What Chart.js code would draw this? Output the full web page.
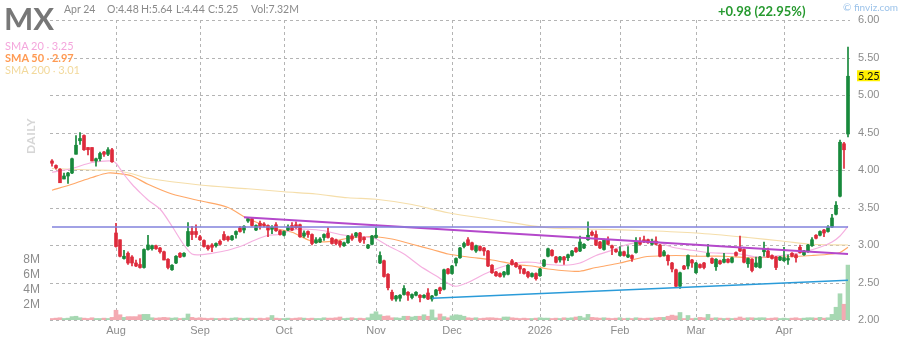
<!DOCTYPE html>
<html>
<head>
<meta charset="utf-8">
<script src="https://cdn.jsdelivr.net/npm/chart.js@4.4.1/dist/chart.umd.min.js"></script>
<style>
  body { margin: 0; background: #fff; font-family: Lato, "Noto Sans", sans-serif; }
  #wrap { position: relative; width: 900px; height: 340px; overflow: hidden; }
  #wrap canvas { position: absolute; left: 0; top: 0; }
  .t { position: absolute; white-space: nowrap; line-height: 1; }
  .h { font-size: 10.5px; color: #8a8a8a; top: 4px; }
</style>
</head>
<body>
<div id="wrap">
  <canvas id="stockChart" width="900" height="340"></canvas>
  <div class="t" style="left:4px;top:3px;font-size:31px;font-weight:700;color:#777;">MX</div>
  <div class="t h" style="left:64px;">Apr 24</div>
  <div class="t h" style="left:107px;">O:4.48</div>
  <div class="t h" style="left:141px;">H:5.64</div>
  <div class="t h" style="left:176px;">L:4.44</div>
  <div class="t h" style="left:208px;">C:5.25</div>
  <div class="t h" style="left:251px;">Vol:7.32M</div>
  <div class="t" style="left:5px;top:40px;font-size:11px;color:#f4a6dc;">SMA 20 <span style="font-size:9px">&middot;</span> 3.25</div>
  <div class="t" style="left:5px;top:52px;font-size:11px;color:#ff9a52;font-weight:700;">SMA 50 <span style="font-size:9px">&middot;</span> 2.97</div>
  <div class="t" style="left:5px;top:64px;font-size:11px;color:#f2d99c;">SMA 200 <span style="font-size:9px">&middot;</span> 3.01</div>
  <div class="t" style="left:718px;top:5px;font-size:13px;font-weight:700;color:#26992f;">+0.98 (22.95%)</div>
  <div class="t" style="left:843px;top:2px;font-size:10px;color:#9cc3ea;">&copy; finviz.com</div>
  <div class="t" style="left:0px;top:130px;width:62px;text-align:center;font-size:12px;font-weight:700;letter-spacing:0.5px;color:#d6d6d6;transform:rotate(-90deg);">DAILY</div>
</div>
<script>
// daily candles, 10 Jul 2025 .. 24 Apr 2026
const open = [
  4.12,4.06,4.01,3.88,3.92,3.96,4.21,4.39,4.46,4.30,
  4.30,4.12,4.15,4.24,4.21,4.27,3.16,3.07,2.82,2.89,
  2.84,2.76,2.74,2.70,2.94,2.95,2.99,2.96,2.91,2.81,
  2.67,2.76,2.89,2.85,2.99,3.18,3.18,3.11,3.06,2.99,
  3.00,2.99,3.05,3.14,3.11,3.07,3.14,3.23,3.20,3.32,
  3.35,3.20,3.29,3.28,3.26,3.21,3.27,3.19,3.13,3.20,
  3.26,3.27,3.27,3.12,3.18,3.14,3.03,3.04,3.10,3.16,
  3.09,3.07,3.05,2.99,3.03,3.12,3.12,3.16,3.10,2.96,
  3.01,3.10,2.76,2.79,2.61,2.37,2.28,2.29,2.34,2.37,
  2.30,2.33,2.33,2.30,2.36,2.28,2.33,2.43,2.41,2.68,
  2.62,2.76,2.83,2.98,3.07,3.03,2.92,2.98,2.96,2.92,
  2.73,2.64,2.62,2.60,2.61,2.79,2.76,2.72,2.68,2.64,
  2.58,2.62,2.59,2.72,2.85,2.93,2.84,2.80,2.84,2.83,
  2.86,2.96,2.92,2.96,3.07,3.17,3.14,3.04,2.94,3.07,
  2.99,2.94,2.86,2.91,2.84,2.86,2.90,3.05,3.07,3.07,
  3.01,3.05,3.00,2.86,2.86,2.76,2.67,2.45,2.72,2.72,
  2.80,2.63,2.74,2.76,2.85,2.82,2.71,2.79,2.77,2.81,
  2.77,2.90,2.96,2.94,2.75,2.81,2.71,2.70,2.91,2.92,
  2.86,2.84,2.80,2.79,2.80,2.89,2.87,2.97,2.87,2.91,
  2.99,3.13,3.13,3.20,3.18,3.24,3.41,3.65,4.35,4.48
];
const high = [
  4.14,4.07,4.02,3.96,3.97,4.16,4.46,4.50,4.47,4.30,
  4.30,4.16,4.24,4.25,4.30,4.29,3.29,3.07,2.93,2.91,
  2.86,2.80,2.82,2.95,3.13,3.00,3.00,2.97,2.92,2.82,
  2.74,2.86,2.90,2.90,3.30,3.25,3.27,3.13,3.07,3.00,
  3.02,3.03,3.07,3.18,3.12,3.13,3.19,3.25,3.26,3.37,
  3.37,3.27,3.32,3.30,3.27,3.26,3.30,3.20,3.19,3.27,
  3.30,3.31,3.28,3.19,3.19,3.15,3.10,3.10,3.15,3.23,
  3.10,3.08,3.06,3.04,3.13,3.15,3.17,3.17,3.11,3.01,
  3.13,3.23,2.91,2.80,2.62,2.40,2.33,2.34,2.46,2.38,
  2.35,2.38,2.34,2.34,2.42,2.33,2.41,2.44,2.68,2.69,
  2.73,2.83,2.97,3.04,3.10,3.04,3.00,2.99,2.97,2.93,
  2.74,2.65,2.63,2.65,2.74,2.81,2.77,2.73,2.69,2.65,
  2.63,2.63,2.69,2.81,2.96,2.94,2.85,2.85,2.85,2.88,
  2.93,2.97,3.12,3.02,3.31,3.19,3.19,3.05,3.08,3.11,
  3.00,2.95,2.98,2.92,2.98,2.87,3.10,3.10,3.12,3.08,
  3.08,3.11,3.01,2.93,2.87,2.77,2.68,2.64,2.73,2.87,
  2.81,2.77,2.75,2.77,3.01,2.83,2.82,2.80,2.89,2.82,
  2.84,2.91,3.12,2.95,2.83,2.82,2.84,2.85,3.04,2.96,
  2.87,2.85,2.85,2.97,2.87,2.90,2.88,3.00,2.93,3.01,
  3.10,3.14,3.19,3.21,3.26,3.41,3.58,4.40,4.37,5.64
];
const low = [
  4.05,4.01,3.83,3.88,3.82,3.95,4.21,4.34,4.26,4.20,
  4.12,4.05,4.12,4.18,4.19,4.10,2.97,2.84,2.81,2.74,
  2.72,2.71,2.69,2.69,2.93,2.93,2.94,2.89,2.80,2.68,
  2.66,2.75,2.83,2.84,2.98,3.07,3.10,3.06,2.97,2.93,
  2.91,2.97,3.00,3.06,3.05,3.06,3.09,3.17,3.16,3.30,
  3.25,3.19,3.21,3.24,3.11,3.15,3.18,3.13,3.12,3.19,
  3.19,3.22,3.10,3.10,3.10,3.00,3.02,3.03,3.06,3.09,
  3.01,3.00,2.97,2.98,3.02,3.06,3.10,3.03,3.02,2.95,
  3.00,3.09,2.75,2.57,2.40,2.26,2.25,2.25,2.33,2.26,
  2.28,2.32,2.24,2.29,2.27,2.25,2.32,2.35,2.40,2.61,
  2.61,2.72,2.82,2.96,2.99,2.93,2.90,2.92,2.86,2.71,
  2.62,2.58,2.57,2.57,2.60,2.73,2.70,2.62,2.61,2.56,
  2.57,2.53,2.58,2.71,2.84,2.85,2.76,2.77,2.74,2.79,
  2.85,2.90,2.91,2.95,3.06,3.12,2.99,2.95,2.93,3.00,
  2.87,2.90,2.85,2.85,2.83,2.78,2.89,3.00,3.03,3.02,
  3.00,3.00,2.84,2.85,2.73,2.64,2.44,2.42,2.67,2.68,
  2.70,2.62,2.69,2.68,2.84,2.75,2.66,2.74,2.76,2.76,
  2.76,2.85,2.91,2.76,2.70,2.64,2.70,2.69,2.85,2.83,
  2.81,2.67,2.79,2.78,2.74,2.84,2.77,2.89,2.86,2.90,
  2.98,3.08,3.12,3.11,3.17,3.23,3.40,3.64,4.02,4.44
];
const close = [
  4.09,4.03,3.83,3.92,3.96,4.15,4.33,4.42,4.27,4.27,
  4.12,4.15,4.22,4.21,4.27,4.11,2.98,2.85,2.85,2.76,
  2.76,2.72,2.70,2.94,3.00,2.99,2.95,2.91,2.80,2.70,
  2.73,2.85,2.84,2.89,3.18,3.14,3.14,3.07,2.98,2.95,
  2.97,3.02,3.01,3.07,3.07,3.12,3.18,3.18,3.25,3.35,
  3.26,3.26,3.25,3.26,3.20,3.24,3.19,3.14,3.18,3.24,
  3.20,3.23,3.11,3.16,3.14,3.02,3.07,3.08,3.14,3.10,
  3.02,3.02,3.00,3.03,3.12,3.08,3.16,3.05,3.07,3.00,
  3.12,3.13,2.86,2.58,2.43,2.28,2.32,2.33,2.42,2.33,
  2.34,2.37,2.30,2.33,2.28,2.32,2.40,2.39,2.67,2.62,
  2.72,2.82,2.96,3.02,3.00,2.94,2.99,2.93,2.92,2.72,
  2.63,2.59,2.58,2.64,2.73,2.74,2.71,2.68,2.62,2.58,
  2.62,2.55,2.68,2.80,2.95,2.86,2.77,2.84,2.80,2.87,
  2.92,2.91,3.04,3.01,3.13,3.13,3.00,2.96,3.07,3.01,
  2.96,2.91,2.91,2.86,2.87,2.82,3.05,3.01,3.04,3.03,
  3.05,3.01,2.85,2.91,2.79,2.68,2.45,2.63,2.68,2.86,
  2.76,2.76,2.70,2.70,2.89,2.76,2.81,2.75,2.81,2.77,
  2.83,2.86,2.92,2.77,2.82,2.66,2.76,2.84,2.95,2.84,
  2.82,2.70,2.84,2.83,2.82,2.85,2.83,2.90,2.92,3.00,
  3.07,3.09,3.18,3.16,3.24,3.36,3.53,4.37,4.27,5.25
];
// volume in millions
const volume = [
  0.20,0.25,0.30,0.20,0.25,0.45,0.50,0.30,0.25,0.20,
  0.30,0.20,0.20,0.25,0.20,0.35,1.30,0.70,0.35,0.45,
  0.45,0.45,0.70,0.75,0.75,0.30,0.25,0.30,0.35,0.30,
  0.25,0.30,0.20,0.25,0.80,0.35,0.25,0.30,0.25,0.20,
  0.25,0.20,0.20,0.25,0.20,0.25,0.30,0.25,0.20,0.25,
  0.25,0.20,0.25,0.20,0.30,0.60,0.25,0.20,0.20,0.25,
  0.20,0.25,0.30,0.25,0.20,0.25,0.20,0.20,0.30,0.25,
  0.25,0.30,0.40,0.20,0.25,0.30,0.20,0.25,0.20,0.30,
  0.80,1.10,0.70,0.50,0.55,0.30,0.30,0.25,0.50,0.50,
  0.40,0.50,0.50,0.70,0.50,1.35,0.30,0.80,0.45,0.30,
  0.55,0.70,0.65,0.50,0.30,0.25,0.30,0.20,0.25,0.30,
  0.30,0.25,0.20,0.40,0.40,0.30,0.25,0.20,0.25,0.20,
  0.20,0.25,0.30,0.25,0.25,0.20,0.25,0.20,0.30,0.25,
  0.30,0.40,0.50,0.30,0.75,0.35,0.30,0.25,0.30,0.25,
  0.20,0.25,0.30,0.20,0.25,0.20,0.30,0.25,0.20,0.25,
  0.25,0.30,0.35,0.35,0.50,0.65,0.55,1.00,0.20,0.60,
  0.20,0.25,0.35,0.30,0.75,0.25,0.30,0.25,0.20,0.25,
  0.20,0.25,0.40,0.25,0.30,0.30,0.25,0.30,0.30,0.20,
  0.25,0.30,0.20,0.25,0.20,0.25,0.30,0.20,0.25,0.30,
  0.30,0.25,0.35,0.25,0.30,0.75,1.70,3.50,2.10,7.32
];

// moving averages: [bar index, value]
const sma20 = [
  [0,3.97],[5,4.02],[10,4.10],[15,4.12],[16,4.09],[18,3.94],[20,3.81],[22,3.70],[24,3.60],
  [27,3.48],[30,3.25],[33,3.00],[35,2.88],[37,2.87],[40,2.89],[44,2.93],[48,3.00],[50,3.05],
  [54,3.13],[57,3.14],[60,3.20],[64,3.21],[68,3.19],[72,3.14],[75,3.12],[78,3.11],[81,3.08],
  [84,2.99],[88,2.88],[92,2.72],[96,2.59],[99,2.49],[101,2.45],[104,2.50],[108,2.61],[112,2.70],
  [116,2.76],[120,2.77],[124,2.74],[128,2.73],[132,2.76],[136,2.86],[140,2.93],[144,3.01],
  [148,3.05],[150,3.07],[154,2.99],[156,2.96],[160,2.93],[164,2.90],[168,2.89],[172,2.88],
  [176,2.84],[180,2.85],[184,2.87],[188,2.91],[192,2.97],[195,3.04],[197,3.12],[199,3.25]
];
const sma50 = [
  [0,3.73],[5,3.81],[10,3.90],[14,3.96],[17,3.95],[20,3.92],[24,3.81],[30,3.68],[37,3.59],
  [44,3.50],[49,3.35],[55,3.23],[60,3.17],[65,3.05],[70,3.05],[74,3.09],[78,3.11],[81,3.11],
  [85,3.08],[90,3.01],[95,2.94],[99,2.88],[104,2.84],[110,2.80],[116,2.74],[120,2.72],[124,2.68],
  [130,2.65],[132,2.65],[136,2.70],[142,2.76],[148,2.84],[150,2.85],[156,2.86],[162,2.85],
  [168,2.85],[174,2.83],[183,2.84],[190,2.86],[195,2.88],[197,2.90],[199,2.97]
];
const sma200 = [
  [0,4.02],[10,4.00],[16,3.99],[20,3.95],[24,3.89],[37,3.80],[49,3.75],[58,3.71],[66,3.68],
  [74,3.63],[81,3.61],[90,3.54],[99,3.43],[110,3.34],[124,3.23],[136,3.21],[149,3.19],
  [161,3.16],[174,3.10],[183,3.05],[190,3.01],[199,3.00]
];
// drawn trend lines: [bar index, price]
const resistanceLine = [[0,3.24],[199,3.24]];
const fallingLine = [[48,3.37],[199,2.88]];
const risingLine = [[95,2.29],[199,2.53]];

const priceTicks = [2.0, 2.5, 3.0, 3.5, 4.0, 4.5, 5.0, 5.5, 6.0];
const volumeTicks = [2, 4, 6, 8];
const holidays = ['2025-09-01','2025-11-27','2025-12-25','2026-01-01','2026-01-19','2026-02-16','2026-04-03'];
const monthNames = ['Jan','Feb','Mar','Apr','May','Jun','Jul','Aug','Sep','Oct','Nov','Dec'];

// trading days
const labels = [];
const day = new Date(Date.UTC(2025, 6, 10));
while (labels.length < close.length) {
    const iso = day.toISOString().slice(0, 10);
    const wd = day.getUTCDay();
    if (wd !== 0 && wd !== 6 && !holidays.includes(iso)) labels.push(iso);
    day.setUTCDate(day.getUTCDate() + 1);
}
const monthTicks = labels.map((d, i) => {
    if (i === 0 || d.slice(5, 7) === labels[i - 1].slice(5, 7)) return '';
    const m = parseInt(d.slice(5, 7), 10);
    return m === 1 ? d.slice(0, 4) : monthNames[m - 1];
});

const UP = '#17893b', DOWN = '#dd2a3b';
const GRID = '#b4b4b4';
const upDown = close.map((c, i) => c >= open[i]);

function sparse(points) {
    const arr = new Array(labels.length).fill(null);
    points.forEach(([i, v]) => { arr[i] = v; });
    return arr;
}
function segment(points) {
    return points.map(([i, v]) => ({ x: labels[i], y: v }));
}

// dashed grid (behind everything) at price levels and month starts + last price tag
const overlay = {
    id: 'overlay',
    afterDraw(chart) {
        const { ctx, chartArea: a, scales } = chart;
        ctx.save();
        ctx.globalCompositeOperation = 'destination-over';
        ctx.fillStyle = GRID;
        priceTicks.forEach(v => {
            const py = Math.round(scales.y.getPixelForValue(v));
            for (let x = a.left; x < a.right; x += 6) ctx.fillRect(x, py, Math.min(3, a.right - x), 1);
        });
        monthTicks.forEach((m, i) => {
            if (!m) return;
            const px = Math.round(scales.x.getPixelForValue(i));
            for (let y = a.top; y < a.bottom; y += 6) ctx.fillRect(px, y, 1, Math.min(3, a.bottom - y));
        });
        ctx.globalCompositeOperation = 'source-over';

        const last = close[close.length - 1];
        const ty = scales.y.getPixelForValue(last);
        const tx = a.right + 7;
        ctx.fillStyle = '#fff000';
        ctx.fillRect(tx, ty - 6, 23, 11);
        ctx.fillStyle = '#111';
        ctx.font = '11px Lato';
        ctx.textBaseline = 'middle';
        ctx.fillText(last.toFixed(2), tx + 1, ty);
        ctx.restore();
    }
};

const ctx = document.getElementById('stockChart').getContext('2d');
const chart = new Chart(ctx, {
    type: 'bar',
    data: {
        labels: labels,
        datasets: [
            {
                label: 'body',
                data: open.map((o, i) => [o, close[i]]),
                backgroundColor: upDown.map(u => u ? UP : DOWN),
                barThickness: 3,
                minBarLength: 1,
                grouped: false,
                order: 1
            },
            {
                label: 'wick',
                data: low.map((l, i) => [l, high[i]]),
                backgroundColor: upDown.map(u => u ? UP : DOWN),
                barThickness: 1,
                grouped: false,
                order: 2
            },
            {
                type: 'line', label: 'SMA 20', data: sparse(sma20), spanGaps: true,
                borderColor: '#f5b0e0', borderWidth: 1.2, pointRadius: 0, tension: 0.3, order: 3
            },
            {
                type: 'line', label: 'SMA 50', data: sparse(sma50), spanGaps: true,
                borderColor: '#ffa868', borderWidth: 1.2, pointRadius: 0, tension: 0.3, order: 3
            },
            {
                type: 'line', label: 'SMA 200', data: sparse(sma200), spanGaps: true,
                borderColor: '#f5deaa', borderWidth: 1.2, pointRadius: 0, tension: 0.3, order: 3
            },
            {
                type: 'line', label: 'resistance', data: segment(resistanceLine),
                borderColor: '#8282dc', borderWidth: 1.5, pointRadius: 0, order: 0
            },
            {
                type: 'line', label: 'falling', data: segment(fallingLine),
                borderColor: '#b448cb', borderWidth: 2, pointRadius: 0, order: 0
            },
            {
                type: 'line', label: 'rising', data: segment(risingLine),
                borderColor: '#2a9bd9', borderWidth: 1.5, pointRadius: 0, order: 0
            },
            {
                label: 'volume',
                data: volume,
                yAxisID: 'yv',
                backgroundColor: upDown.map(u => u ? '#a6d8b2' : '#f4aab2'),
                barPercentage: 1,
                categoryPercentage: 1,
                grouped: false,
                order: 9
            }
        ]
    },
    options: {
        responsive: false,
        animation: false,
        layout: { padding: { top: 20 } },
        plugins: { legend: { display: false }, tooltip: { enabled: false } },
        scales: {
            x: {
                offset: true,
                afterFit: s => { s.height = 20; },
                grid: { display: false, drawTicks: false },
                border: { display: false },
                ticks: {
                    autoSkip: false,
                    maxRotation: 0,
                    padding: 4,
                    color: '#8c8c8c',
                    font: { size: 11 },
                    callback: (v, i) => monthTicks[i]
                }
            },
            y: {
                position: 'right',
                min: 2,
                max: 6,
                afterFit: s => { s.width = 50; },
                afterBuildTicks: s => { s.ticks = priceTicks.map(v => ({ value: v })); },
                grid: { display: false, drawTicks: false },
                border: { display: false },
                ticks: {
                    padding: 8,
                    color: '#8c8c8c',
                    font: { size: 11 },
                    callback: v => v.toFixed(2)
                }
            },
            yv: {
                position: 'left',
                min: 0,
                max: 40,
                afterFit: s => { s.width = 50; },
                afterBuildTicks: s => { s.ticks = volumeTicks.map(v => ({ value: v })); },
                grid: { display: false, drawTicks: false },
                border: { display: false },
                ticks: {
                    padding: 10,
                    color: '#8c8c8c',
                    font: { size: 12 },
                    callback: v => v + 'M'
                }
            }
        }
    },
    plugins: [overlay]
});
</script>
</body>
</html>
